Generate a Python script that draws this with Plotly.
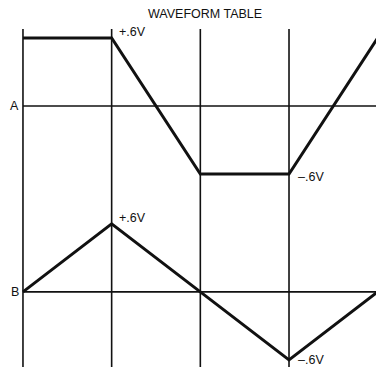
import plotly.graph_objects as go

# Data
time_steps = [0, 1, 2, 3, 4]
wave_a = [0.6, 0.6, -0.6, -0.6, 0.6]
wave_b = [0.0, 0.6, 0.0, -0.6, 0.0]
grid_x = [0, 1, 2, 3]
channels = ["A", "B"]
channel_base = [0.0, -1.64]
peak_labels = ["+.6V", "\u2013.6V"]

FONT = "Liberation Sans, Arial, sans-serif"
INK = "#111111"

fig = go.Figure()

# vertical time grid lines
for gx in grid_x:
    fig.add_trace(go.Scatter(x=[gx, gx], y=[0.68, -2.6], mode="lines",
                             line=dict(color=INK, width=1.6), hoverinfo="skip"))

# channel baselines
for base in channel_base:
    fig.add_trace(go.Scatter(x=[0, 4.2], y=[base, base], mode="lines",
                             line=dict(color=INK, width=1.6), hoverinfo="skip"))

# waveforms
for base, wave in zip(channel_base, [wave_a, wave_b]):
    fig.add_trace(go.Scatter(x=time_steps, y=[base + v for v in wave], mode="lines",
                             line=dict(color=INK, width=3), hoverinfo="skip"))

annotations = []
# channel labels
for name, base in zip(channels, channel_base):
    annotations.append(dict(x=-0.09, y=base, text=name, showarrow=False,
                            xanchor="center", yanchor="middle",
                            font=dict(family=FONT, size=12.5, color=INK)))
# level labels
for i, (base, wave) in enumerate(zip(channel_base, [wave_a, wave_b])):
    annotations.append(dict(x=1.06, y=base + 0.6 + 0.05, text=peak_labels[0], showarrow=False,
                            xanchor="left", yanchor="middle",
                            font=dict(family=FONT, size=12.5, color=INK)))
    annotations.append(dict(x=3.08, y=base - 0.6 - (0.025 if i == 0 else 0.0), text=peak_labels[1],
                            showarrow=False, xanchor="left", yanchor="middle",
                            font=dict(family=FONT, size=12.5, color=INK)))
# title
annotations.append(dict(x=0.545, y=1.0, xref="paper", yref="paper", yshift=-14,
                        text="WAVEFORM TABLE", showarrow=False, xanchor="center", yanchor="middle",
                        font=dict(family=FONT, size=12.5, color=INK)))

fig.update_layout(
    width=376, height=367,
    margin=dict(l=0, r=0, t=0, b=0),
    paper_bgcolor="white", plot_bgcolor="white",
    showlegend=False,
    xaxis=dict(range=[-0.259, 3.981], visible=False, fixedrange=True),
    yaxis=dict(range=[-2.303, 0.935], visible=False, fixedrange=True),
    annotations=annotations,
)

fig.write_html("out.html",
               config={"displayModeBar": False, "staticPlot": True},
               post_script="document.body.style.margin='0';document.body.style.overflow='hidden';")
